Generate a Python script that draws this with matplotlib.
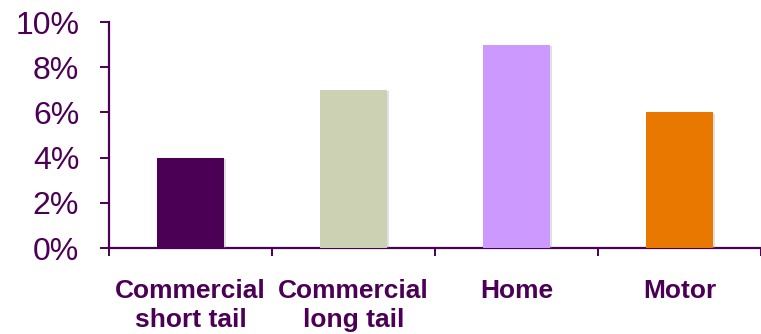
import matplotlib
matplotlib.use("Agg")
import matplotlib.pyplot as plt
import matplotlib.patheffects as pe
from matplotlib.ticker import FixedLocator

categories = ["Commercial\nshort tail", "Commercial\nlong tail", "Home", "Motor"]
values = [4, 7, 9, 6]
colors = ["#4B0055", "#CDD1B4", "#CC99FF", "#E87800"]
y_ticks = [0, 2, 4, 6, 8, 10]
y_labels = ["0%", "2%", "4%", "6%", "8%", "10%"]

ink = "#4B0055"
plt.rcParams["font.family"] = ["Liberation Sans", "DejaVu Sans"]

fig = plt.figure(figsize=(7.61, 3.34), dpi=100)
ax = fig.add_axes([109 / 761, 1 - 248 / 334, 1 - 109 / 761, (248 - 22) / 334])

x = list(range(len(categories)))
bars = ax.bar(x, values, width=0.405, color=colors, zorder=3)
for b in bars:
    b.set_path_effects([pe.SimplePatchShadow(offset=(1.5, -1), shadow_rgbFace="#999999", alpha=0.3),
                        pe.Normal()])

ax.set_xlim(-0.5, len(categories) - 0.5)
ax.set_ylim(0, 10)

for s in ["top", "right"]:
    ax.spines[s].set_visible(False)
for s in ["left", "bottom"]:
    ax.spines[s].set_color(ink)
    ax.spines[s].set_linewidth(1.6)

ax.set_yticks(y_ticks)
ax.set_yticklabels(y_labels)
ax.tick_params(axis="y", direction="out", length=6.5, width=1.4, color=ink,
               labelcolor=ink, labelsize=23, pad=15)

# Category labels centred under bars, ticks at category boundaries
ax.set_xticks(x)
ax.set_xticklabels(categories, fontweight="bold", fontsize=19, color=ink,
                   linespacing=1.25, va="top")
ax.tick_params(axis="x", which="major", length=0, pad=22.5)
ax.xaxis.set_minor_locator(FixedLocator([i - 0.5 for i in range(len(categories) + 1)]))
ax.tick_params(axis="x", which="minor", direction="out", length=6, width=1.4, color=ink)

fig.savefig("out.png", dpi=100)
